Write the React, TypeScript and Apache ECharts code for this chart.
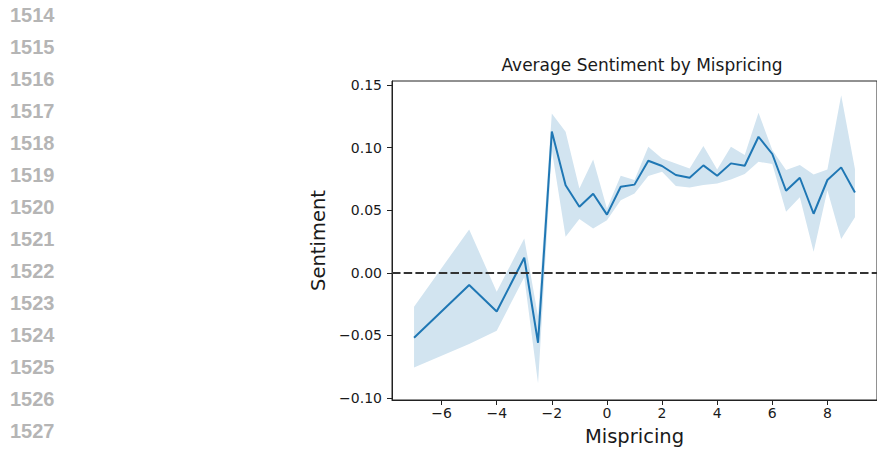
import React, { useEffect, useRef } from "react";
import * as echarts from "echarts";

const lineNumbers = ["1514", "1515", "1516", "1517", "1518", "1519", "1520", "1521", "1522", "1523", "1524", "1525", "1526", "1527"];

const xs = [-7, -5, -4, -3, -2.5, -2, -1.5, -1, -0.5, 0, 0.5, 1, 1.5, 2, 2.5, 3, 3.5, 4, 4.5, 5, 5.5, 6, 6.5, 7, 7.5, 8, 8.5, 9];
const meanVals = [-0.052, -0.0098, -0.031, 0.012, -0.056, 0.113, 0.07, 0.0528, 0.0632, 0.0465, 0.0688, 0.0705, 0.0896, 0.0854, 0.0782, 0.076, 0.0859, 0.0776, 0.0875, 0.0856, 0.1088, 0.095, 0.0656, 0.076, 0.0472, 0.0742, 0.0843, 0.0642];
const upperVals = [-0.0272, 0.0347, -0.0152, 0.0275, -0.035, 0.1275, 0.1128, 0.0675, 0.0907, 0.0515, 0.0777, 0.0742, 0.1008, 0.0915, 0.0875, 0.0835, 0.1014, 0.0827, 0.1008, 0.0942, 0.128, 0.0982, 0.0822, 0.0862, 0.0787, 0.0827, 0.142, 0.083];
const lowerVals = [-0.0757, -0.057, -0.0464, -0.0035, -0.0885, 0.098, 0.0288, 0.043, 0.0355, 0.042, 0.058, 0.0635, 0.0774, 0.0808, 0.0694, 0.0683, 0.0702, 0.0715, 0.0747, 0.079, 0.0888, 0.087, 0.0488, 0.0605, 0.0168, 0.066, 0.027, 0.0445];

const xTicks = [-6, -4, -2, 0, 2, 4, 6, 8];
const yTicks = [-0.1, -0.05, 0, 0.05, 0.1, 0.15];

const FONT = "DejaVu Sans";
const fmtMinus = (s: string) => s.replace("-", "\u2212");

export default function App() {
  const ref = useRef<HTMLDivElement>(null);
  useEffect(() => {
    if (!ref.current) return;
    const chart = echarts.init(ref.current, null, { renderer: "svg" });
    const meanData = xs.map((x, i) => [x, meanVals[i]]);
    chart.setOption({
      animation: false,
      backgroundColor: "#ffffff",
      title: {
        text: "Average Sentiment by Mispricing",
        left: 637,
        top: 51,
        textAlign: "center",
        textStyle: { fontFamily: FONT, fontSize: 17, fontWeight: "normal", color: "#1a1a1a" },
      },
      graphic: lineNumbers.map((t, i) => ({
        type: "text",
        left: 10,
        top: 5 + 32 * i,
        style: { text: t, fontFamily: "Liberation Sans", fontWeight: "bold", fontSize: 20, fill: "#b5b5b5" },
      })),
      grid: { left: 392, right: -7, top: 81, bottom: 51, show: true, borderColor: "#222", borderWidth: 1 },
      xAxis: {
        type: "value",
        min: -7.8,
        max: 9.8,
        name: "Mispricing",
        nameLocation: "middle",
        nameGap: 26,
        nameTextStyle: { fontFamily: FONT, fontSize: 19.5, color: "#1a1a1a" },
        axisLine: { show: true, onZero: false, lineStyle: { color: "#222", width: 1 } },
        axisTick: { show: true, length: 5, customValues: xTicks, lineStyle: { color: "#222" } },
        axisLabel: {
          customValues: xTicks,
          margin: 6,
          fontFamily: FONT,
          fontSize: 14,
          color: "#1a1a1a",
          formatter: (v: number) => fmtMinus(String(v)),
        },
        splitLine: { show: false },
      },
      yAxis: {
        type: "value",
        min: -0.1018,
        max: 0.1534,
        name: "Sentiment",
        nameLocation: "middle",
        nameGap: 62,
        nameTextStyle: { fontFamily: FONT, fontSize: 19.5, color: "#1a1a1a" },
        axisLine: { show: true, onZero: false, lineStyle: { color: "#222", width: 1 } },
        axisTick: { show: true, length: 5, customValues: yTicks, lineStyle: { color: "#222" } },
        axisLabel: {
          customValues: yTicks,
          margin: 10,
          fontFamily: FONT,
          fontSize: 14,
          color: "#1a1a1a",
          formatter: (v: number) => fmtMinus(v.toFixed(2)),
        },
        splitLine: { show: false },
      },
      series: [
        {
          type: "custom",
          data: [0],
          silent: true,
          z: 1,
          renderItem: (params: any, api: any) => {
            const pts: number[][] = [];
            for (let i = 0; i < xs.length; i++) pts.push(api.coord([xs[i], upperVals[i]]));
            for (let i = xs.length - 1; i >= 0; i--) pts.push(api.coord([xs[i], lowerVals[i]]));
            return {
              type: "polygon",
              shape: { points: pts },
              style: { fill: "#d2e4f0", stroke: "none" },
            };
          },
        },
        {
          type: "line",
          data: meanData,
          symbol: "none",
          lineStyle: { color: "#1f77b4", width: 2 },
          z: 2,
        },
        {
          type: "line",
          data: [],
          symbol: "none",
          z: 3,
          markLine: {
            silent: true,
            symbol: "none",
            label: { show: false },
            lineStyle: { color: "#333", width: 2, type: [8.5, 3.2] },
            data: [{ yAxis: 0 }],
          },
        },
      ],
    });
    return () => chart.dispose();
  }, []);
  return (
    <div
      ref={ref}
      style={{ position: "fixed", left: 0, top: 0, width: 877, height: 451, background: "#fff" }}
    />
  );
}
